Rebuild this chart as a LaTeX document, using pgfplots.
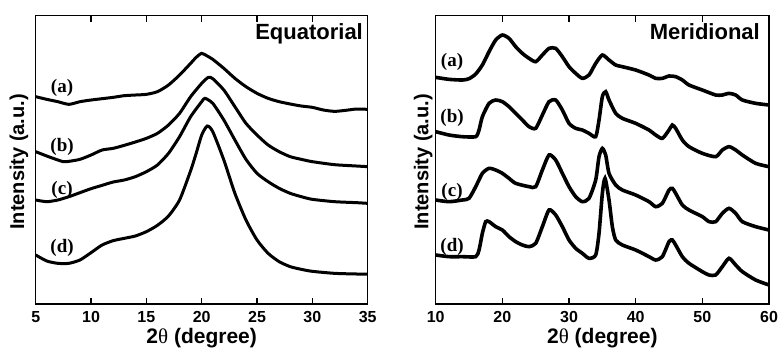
\documentclass[border=0pt]{standalone}
\usepackage{pgfplots}
\pgfplotsset{compat=1.18}
\usepackage{pgfplotstable}
\usepackage{fontspec}
\setmainfont{Liberation Sans}
\newfontfamily\tnr{Liberation Serif}

% y values are depths below the top of the figure (larger = lower on the page)
\pgfplotstableread{
x y
5 290
6 298
7 305
8 313
9 305
10 300
11 296
12 292
13 287
14 285
15 283
16 275
17 255
18 225
19 190
19.5 172
20 160
20.5 168
21 178
22 205
23 235
24 260
25 280
26 295
27 305
28 312
29 318
30 322
31 330
32 334
33 331
34 327
35 328
}\La
\pgfplotstableread{
x y
5 455
6 468
7 480
7.5 485
8 484
9 478
10 465
11 450
12 445
13 436
14 426
15 415
16 400
17 375
18 340
19 290
20 250
20.6 232
21 236
22 270
23 320
24 370
25 405
26 435
27 455
28 470
29 478
30 485
32 494
34 498
35 500
}\Lb
\pgfplotstableread{
x y
5 600
6 605
7 600
8 590
9 578
10 566
11 556
12 546
13 540
14 530
15 515
16 495
17 460
18 410
19 350
20 305
20.3 295
21 310
22 360
23 420
24 478
25 520
26 545
27 565
28 580
29 590
30 598
32 605
34 608
35 610
}\Lc
\pgfplotstableread{
x y
5 765
6 783
7 790
8 790
9 780
10 758
11 735
12 722
13 715
14 708
15 695
16 676
17 648
18 600
19 512
19.5 460
20 405
20.5 378
21 395
22 480
23 580
24 660
25 720
26 760
27 785
28 800
29 808
30 814
32 820
34 822
35 822
}\Ld

\pgfplotstableread{
x y
10 232
12 238
14 240
15 236
16 222
17 195
18 155
19 120
20 105
21 115
22 140
23 160
24 175
25 185
26 165
27 145
28 145
29 170
30 200
31 220
32 235
33 225
34 190
35 165
36 180
37 195
38 200
40 210
42 225
43 235
44 235
45 228
46 230
47 240
48 255
50 270
52 285
53 285
54 280
55 285
56 300
58 310
60 315
}\Ra
\pgfplotstableread{
x y
10 395
12 405
14 410
16 410
16.5 390
17 350
18 310
19 300
20 305
21 320
22 340
23 360
24 380
25 385
26 345
27 305
28 300
29 330
30 370
31 385
32 390
33 400
34 410
34.5 360
35 290
35.5 275
36 300
37 340
38 355
40 370
42 390
43 405
44 415
45 390
45.5 375
46 385
47 420
48 440
50 460
52 470
53 450
54 440
55 450
56 465
58 490
60 500
}\Rb
\pgfplotstableread{
x y
10 600
12 605
14 600
15 595
16 560
17 520
18 505
19 510
20 520
21 535
22 550
24 560
25 560
26 510
27 465
28 480
29 520
30 560
31 590
32 605
33 595
34 540
34.5 470
35 445
35.5 465
36 520
37 555
38 570
40 585
42 605
43 620
44 610
45 570
45.5 565
46 580
47 615
48 630
50 650
51 665
52 665
53 640
54 625
55 640
56 665
58 680
60 690
}\Rc
\pgfplotstableread{
x y
10 765
12 770
14 770
16 770
16.5 750
17 700
17.5 665
18 665
19 680
20 690
21 710
22 725
23 735
24 740
25 730
26 680
27 630
28 645
29 680
30 720
31 745
32 760
33 775
34 765
34.5 700
35 580
35.4 535
36 600
36.5 680
37 720
38 735
40 750
42 770
43 780
44 770
45 725
45.5 720
46 735
47 770
48 790
50 815
51 825
52 825
53 800
54 775
55 795
56 815
58 840
60 855
}\Rd

\pgfplotsset{
  xrdstyle/.style={
    scale only axis,
    height=288.3bp,
    ymin=-912, ymax=-47,
    ytick=\empty,
    axis line style={line width=1.1bp},
    tick style={line width=1.1bp, black},
    major tick length=6bp,
    tick align=inside,
    xtick pos=both,
    clip mode=individual,
    /pgf/number format/assume math mode=true,
    xticklabel style={font=\fontsize{16bp}{19bp}\selectfont\bfseries, inner sep=0pt, yshift=-7.5bp},
    xlabel style={font=\fontsize{21bp}{25bp}\selectfont\bfseries, at={(axis description cs:0.5,0)}, anchor=base, yshift=-39bp, inner sep=0pt},
    xlabel={2{\tnr\mdseries θ} (degree)},
  },
  curve/.style={black, smooth, tension=0.4},
}
\tikzset{
  lbl/.style={font=\fontsize{19bp}{22bp}\selectfont\tnr\bfseries, inner sep=0pt, anchor=center},
  ttl/.style={font=\fontsize{22bp}{26bp}\selectfont\bfseries, inner sep=0pt, anchor=base east},
  ylab/.style={font=\fontsize{20bp}{24bp}\selectfont\bfseries, inner sep=0pt, anchor=center, rotate=90},
}

\begin{document}
\begin{tikzpicture}
\path[use as bounding box] (0,0) rectangle (779bp,354bp);
\begin{axis}[xrdstyle, at={(35.7bp,50bp)}, anchor=south west, width=332bp,
  xmin=5, xmax=35, xtick={5,10,...,35}]
\addplot[curve, line width=3bp] table[x=x, y expr=-\thisrow{y}] {\La};
\addplot[curve, line width=3bp] table[x=x, y expr=-\thisrow{y}] {\Lb};
\addplot[curve, line width=3bp] table[x=x, y expr=-\thisrow{y}] {\Lc};
\addplot[curve, line width=3bp] table[x=x, y expr=-\thisrow{y}] {\Ld};
\node[lbl] at (axis cs:7.38,-265) {(a)};
\node[lbl] at (axis cs:7.38,-440) {(b)};
\node[lbl] at (axis cs:7.38,-570) {(c)};
\node[lbl] at (axis cs:7.38,-745) {(d)};
\node[ttl] at (axis description cs:0.986,0.916) {Equatorial};
\node[ylab] at ([xshift=-16.7bp,yshift=-2bp]axis description cs:0,0.5) {Intensity (a.u.)};
\end{axis}
\begin{axis}[xrdstyle, at={(435.7bp,50bp)}, anchor=south west, width=333.3bp,
  xmin=10, xmax=60, xtick={10,20,...,60}]
\addplot[curve, line width=3.6bp] table[x=x, y expr=-\thisrow{y}] {\Ra};
\addplot[curve, line width=3.6bp] table[x=x, y expr=-\thisrow{y}] {\Rb};
\addplot[curve, line width=3.6bp] table[x=x, y expr=-\thisrow{y}] {\Rc};
\addplot[curve, line width=3.6bp] table[x=x, y expr=-\thisrow{y}] {\Rd};
\node[lbl] at (axis cs:12.45,-185) {(a)};
\node[lbl] at (axis cs:12.45,-355) {(b)};
\node[lbl] at (axis cs:12.45,-575) {(c)};
\node[lbl] at (axis cs:12.45,-740) {(d)};
\node[ttl] at (axis description cs:0.973,0.916) {Meridional};
\node[ylab] at ([xshift=-12.5bp,yshift=-2bp]axis description cs:0,0.5) {Intensity (a.u.)};
\end{axis}
\end{tikzpicture}
\end{document}
